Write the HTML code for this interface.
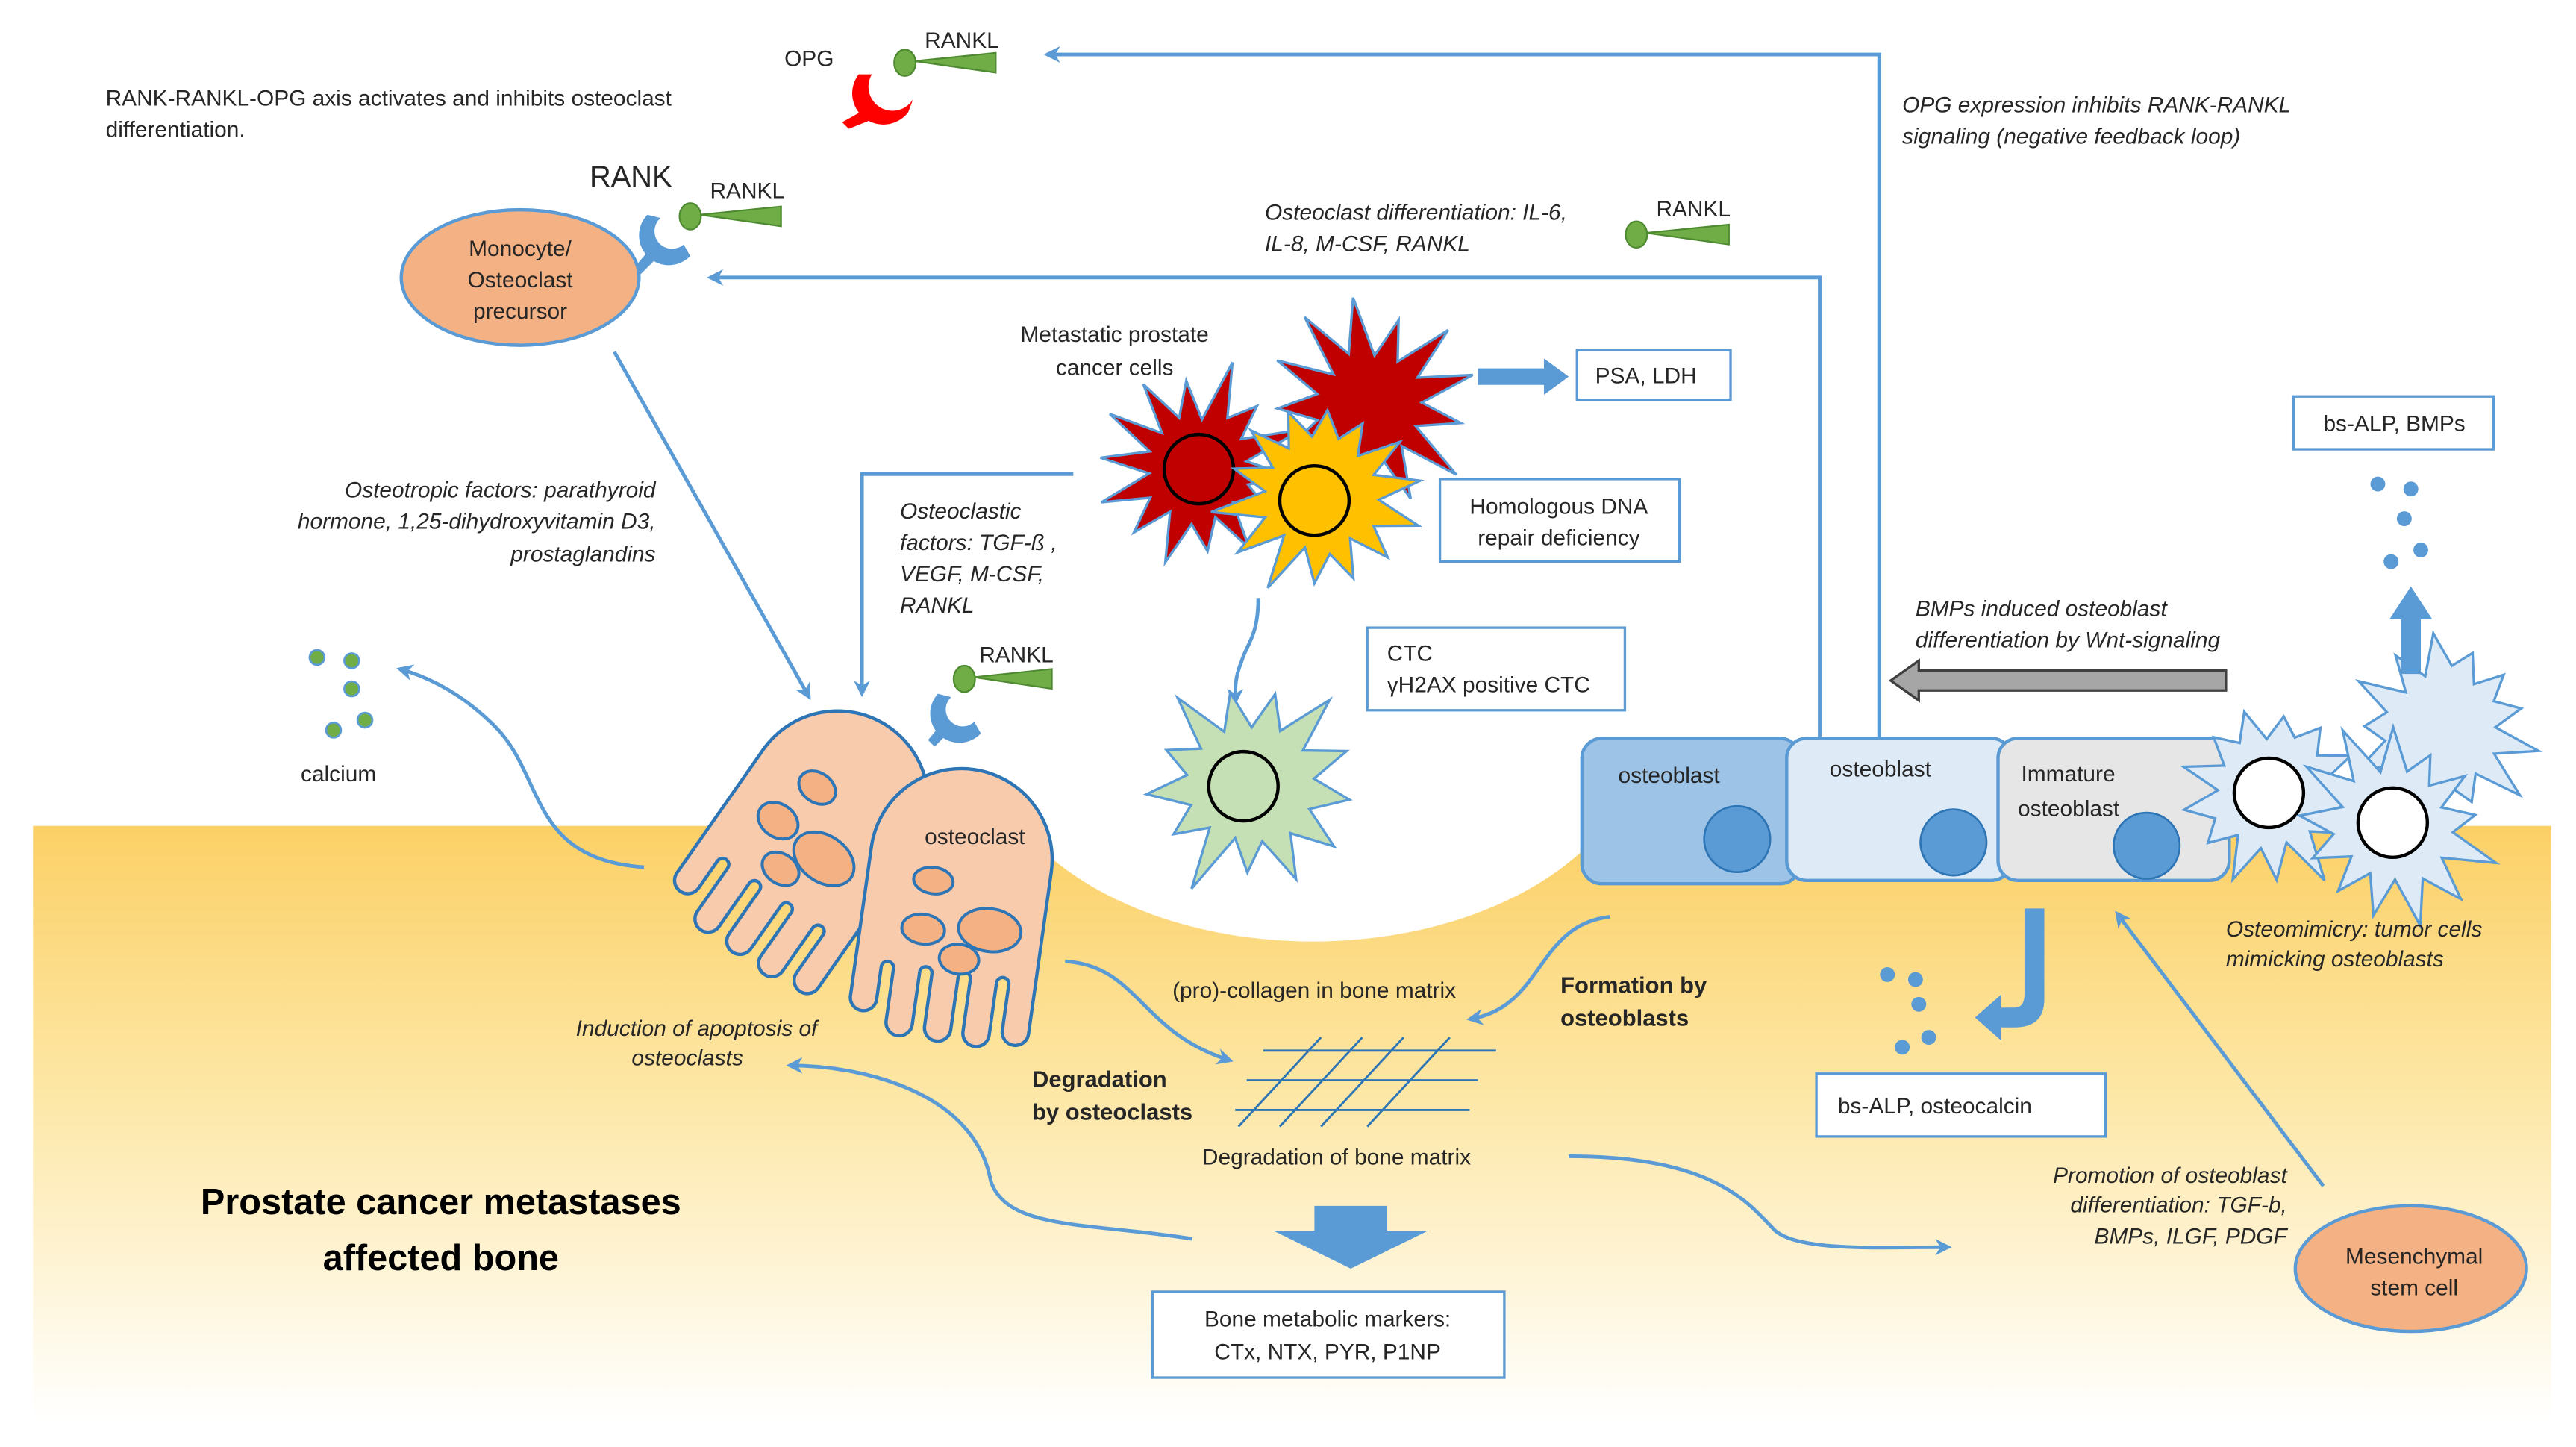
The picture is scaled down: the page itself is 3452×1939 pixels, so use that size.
<!DOCTYPE html>
<html><head><meta charset="utf-8">
<style>
html,body{margin:0;padding:0;background:#fff;}
svg{display:block;}
text{font-family:"Liberation Sans",sans-serif;fill:#262626;}
.t{font-size:13.5px;}
.i{font-size:13.5px;font-style:italic;}
.b{font-size:14px;font-weight:bold;}
</style></head>
<body>
<svg id="s" width="3452" height="1939" viewBox="0 0 1560 876" preserveAspectRatio="none" xmlns="http://www.w3.org/2000/svg">
<defs>
<linearGradient id="bone" x1="0" y1="0" x2="0" y2="1">
<stop offset="0" stop-color="#FCD066"/>
<stop offset="0.45" stop-color="#FDE7A6"/>
<stop offset="1" stop-color="#FFFFFF"/>
</linearGradient>
<marker id="ah" markerWidth="10" markerHeight="10" refX="8" refY="5" orient="auto" markerUnits="userSpaceOnUse">
<path d="M0,0 L10,5 L0,10 L3,5 Z" fill="#5B9BD5"/>
</marker>
</defs>
<!-- bone -->
<rect x="20" y="500" width="1525" height="360" fill="url(#bone)"/>
<ellipse cx="795" cy="440" rx="200" ry="130" fill="#fff"/>

<g fill="none" stroke="#5B9BD5" stroke-width="2.2">
<path d="M1138,450 L1138,33 L634,33" marker-end="url(#ah)"/>
<path d="M1102,450 L1102,168 L430,168" marker-end="url(#ah)"/>
<path d="M650,287 L522,287 L522,420" marker-end="url(#ah)"/>
<path d="M372,213 L490,422" marker-end="url(#ah)"/>
<path d="M762,362 C762,385 755,390 752,400 C748,410 748,415 748,425" marker-end="url(#ah)"/>
<path d="M390,525 C320,520 330,470 300,440 C280,420 260,410 242,405" marker-end="url(#ah)"/>
<path d="M645,582 C690,585 690,625 745,642" marker-end="url(#ah)"/>
<path d="M975,555 C930,560 935,610 890,617" marker-end="url(#ah)"/>
<path d="M722,750 C660,740 610,745 600,715 C590,660 520,645 478,645" marker-end="url(#ah)"/>
<path d="M950,700 C1040,700 1060,730 1075,745 C1090,758 1140,755 1180,755" marker-end="url(#ah)"/>
<path d="M1407,718 L1282,553" marker-end="url(#ah)"/>
</g>

<!-- texts top -->
<text class="t" x="64" y="64">RANK-RANKL-OPG axis activates and inhibits osteoclast</text>
<text class="t" x="64" y="83">differentiation.</text>
<text class="t" x="475" y="40">OPG</text>
<text class="t" x="560" y="29">RANKL</text>
<text class="i" x="1152" y="68">OPG expression inhibits RANK-RANKL</text>
<text class="i" x="1152" y="87">signaling (negative feedback loop)</text>
<text x="357" y="113" style="font-size:18px">RANK</text>
<text class="t" x="430" y="120">RANKL</text>
<text class="i" x="766" y="133">Osteoclast differentiation: IL-6,</text>
<text class="i" x="766" y="152">IL-8, M-CSF, RANKL</text>
<text class="t" x="1003" y="131">RANKL</text>
<text class="t" x="593" y="401">RANKL</text>

<!-- OPG receptor -->
<g fill="#FF0000">
<path d="M520,45 A18,18 0 0 0 550,68 L553,60 A10,10 0 0 1 528,45 Z"/>
<path d="M528,64 L534,70 L514,78 L510,74 Z"/>
</g>
<!-- RANKL ligands -->
<g fill="#70AD47" stroke="#4E8A30" stroke-width="1">
<ellipse cx="548" cy="38" rx="6.5" ry="8"/><path d="M554,37 L603,32 L603,44 Z"/>
<ellipse cx="418" cy="131" rx="6.5" ry="8"/><path d="M424,130 L473,125 L473,137 Z"/>
<ellipse cx="991" cy="142" rx="6.5" ry="8"/><path d="M997,141 L1047,136 L1047,148 Z"/>
<ellipse cx="584" cy="411" rx="6.5" ry="8"/><path d="M590,410 L637,405 L637,417 Z"/>
</g>
<!-- RANK receptors -->
<g fill="#5B9BD5">
<path d="M392,130 A16,16 0 0 0 418,155 L414,148 A9,9 0 0 1 400,132 Z"/>
<path d="M396,148 L402,152 L388,166 L384,162 Z"/>
<path d="M568,420 A16,16 0 0 0 594,444 L590,437 A9,9 0 0 1 576,422 Z"/>
<path d="M572,436 L578,440 L566,452 L562,448 Z"/>
</g>

<!-- monocyte -->
<ellipse cx="315" cy="168" rx="72" ry="41" fill="#F4B183" stroke="#5B9BD5" stroke-width="2"/>
<text class="t" x="315" y="155" text-anchor="middle">Monocyte/</text>
<text class="t" x="315" y="174" text-anchor="middle">Osteoclast</text>
<text class="t" x="315" y="193" text-anchor="middle">precursor</text>

<text class="t" x="675" y="207" text-anchor="middle">Metastatic prostate</text>
<text class="t" x="675" y="227" text-anchor="middle">cancer cells</text>

<g id="stars"></g>

<!-- PSA arrow/box -->
<path d="M895,223 L935,223 L935,217 L950,228 L935,239 L935,233 L895,233 Z" fill="#5B9BD5"/>
<rect x="955" y="212" width="93" height="30" fill="#fff" stroke="#5B9BD5" stroke-width="1.5"/>
<text class="t" x="966" y="232">PSA, LDH</text>
<rect x="872" y="290" width="145" height="50" fill="#fff" stroke="#5B9BD5" stroke-width="1.5"/>
<text class="t" x="944" y="311" text-anchor="middle">Homologous DNA</text>
<text class="t" x="944" y="330" text-anchor="middle">repair deficiency</text>
<rect x="828" y="380" width="156" height="50" fill="#fff" stroke="#5B9BD5" stroke-width="1.5"/>
<text class="t" x="840" y="400">CTC</text>
<text class="t" x="840" y="419">γH2AX positive CTC</text>

<text class="i" x="545" y="314">Osteoclastic</text>
<text class="i" x="545" y="333">factors: TGF-ß ,</text>
<text class="i" x="545" y="352">VEGF, M-CSF,</text>
<text class="i" x="545" y="371">RANKL</text>
<text class="i" x="397" y="301" text-anchor="end">Osteotropic factors: parathyroid</text>
<text class="i" x="397" y="320" text-anchor="end">hormone, 1,25-dihydroxyvitamin D3,</text>
<text class="i" x="397" y="340" text-anchor="end">prostaglandins</text>

<!-- calcium -->
<g fill="#70AD47" stroke="#5B9BD5" stroke-width="1.2">
<circle cx="192" cy="398" r="4.5"/><circle cx="213" cy="400" r="4.5"/><circle cx="213" cy="417" r="4.5"/><circle cx="202" cy="442" r="4.5"/><circle cx="221" cy="436" r="4.5"/>
</g>
<text class="t" x="205" y="473" text-anchor="middle">calcium</text>

<g id="oc"></g>
<text class="t" x="560" y="511">osteoclast</text>

<!-- osteoblasts -->
<rect x="958" y="447" width="132" height="88" rx="12" fill="#9DC3E6" stroke="#5B9BD5" stroke-width="2"/>
<rect x="1082" y="447" width="136" height="86" rx="12" fill="#DEEBF7" stroke="#5B9BD5" stroke-width="2"/>
<rect x="1210" y="447" width="140" height="86" rx="12" fill="#E7E6E6" stroke="#5B9BD5" stroke-width="2"/>
<g fill="#5B9BD5" stroke="#2E75B6" stroke-width="1.2">
<circle cx="1052" cy="508" r="20"/><circle cx="1183" cy="510" r="20"/><circle cx="1300" cy="512" r="20"/>
</g>
<text class="t" x="980" y="474">osteoblast</text>
<text class="t" x="1108" y="470">osteoblast</text>
<text class="t" x="1224" y="473">Immature</text>
<text class="t" x="1222" y="494">osteoblast</text>

<g id="stars2"></g>

<!-- gray arrow -->
<path d="M1348,406 L1162,406 L1162,400 L1145,412 L1162,424 L1162,418 L1348,418 Z" fill="#A6A6A6" stroke="#404040" stroke-width="1.5"/>
<text class="i" x="1160" y="373">BMPs induced osteoblast</text>
<text class="i" x="1160" y="392">differentiation by Wnt-signaling</text>

<path d="M1454,408 L1454,375 L1447,375 L1460,355 L1473,375 L1466,375 L1466,408 Z" fill="#5B9BD5"/>
<g fill="#5B9BD5"><circle cx="1440" cy="293" r="4.5"/><circle cx="1460" cy="296" r="4.5"/><circle cx="1456" cy="314" r="4.5"/><circle cx="1466" cy="333" r="4.5"/><circle cx="1448" cy="340" r="4.5"/></g>
<rect x="1389" y="240" width="121" height="32" fill="#fff" stroke="#5B9BD5" stroke-width="1.5"/>
<text class="t" x="1450" y="261" text-anchor="middle">bs-ALP, BMPs</text>

<text class="i" x="1348" y="567">Osteomimicry: tumor cells</text>
<text class="i" x="1348" y="585">mimicking osteoblasts</text>

<!-- hook arrow -->
<path d="M1226,550 L1238,550 L1238,605 Q1238,622 1220,622 L1212,622 L1212,630 L1196,616 L1212,602 L1212,610 L1220,610 Q1226,610 1226,602 Z" fill="#5B9BD5"/>
<g fill="#5B9BD5"><circle cx="1143" cy="590" r="4.5"/><circle cx="1160" cy="593" r="4.5"/><circle cx="1162" cy="608" r="4.5"/><circle cx="1168" cy="628" r="4.5"/><circle cx="1152" cy="634" r="4.5"/></g>
<rect x="1100" y="650" width="175" height="38" fill="#fff" stroke="#5B9BD5" stroke-width="1.5"/>
<text class="t" x="1113" y="674">bs-ALP, osteocalcin</text>

<ellipse cx="1460" cy="768" rx="70" ry="38" fill="#F4B183" stroke="#5B9BD5" stroke-width="2"/>
<text class="t" x="1462" y="765" text-anchor="middle">Mesenchymal</text>
<text class="t" x="1462" y="784" text-anchor="middle">stem cell</text>
<text class="i" x="1385" y="716" text-anchor="end">Promotion of osteoblast</text>
<text class="i" x="1385" y="734" text-anchor="end">differentiation: TGF-b,</text>
<text class="i" x="1385" y="753" text-anchor="end">BMPs, ILGF, PDGF</text>

<!-- matrix -->
<text class="t" x="710" y="604">(pro)-collagen in bone matrix</text>
<text class="b" x="945" y="601">Formation by</text>
<text class="b" x="945" y="621">osteoblasts</text>
<text class="b" x="625" y="658">Degradation</text>
<text class="b" x="625" y="678">by osteoclasts</text>
<g stroke="#2E75B6" stroke-width="1.3">
<line x1="765" y1="636" x2="906" y2="636"/><line x1="755" y1="654" x2="895" y2="654"/><line x1="748" y1="672" x2="890" y2="672"/>
<line x1="750" y1="682" x2="800" y2="628"/><line x1="775" y1="682" x2="825" y2="628"/><line x1="800" y1="682" x2="850" y2="628"/><line x1="828" y1="682" x2="878" y2="628"/>
</g>
<text class="t" x="728" y="705">Degradation of bone matrix</text>
<text class="i" x="495" y="627" text-anchor="end">Induction of apoptosis of</text>
<text class="i" x="450" y="645" text-anchor="end">osteoclasts</text>

<text x="267" y="735" text-anchor="middle" style="font-size:22px;font-weight:bold;fill:#000">Prostate cancer metastases</text>
<text x="267" y="769" text-anchor="middle" style="font-size:22px;font-weight:bold;fill:#000">affected bone</text>

<path d="M796,730 L840,730 L840,745 L865,745 L818,768 L771,745 L796,745 Z" fill="#5B9BD5"/>
<rect x="698" y="782" width="213" height="52" fill="#fff" stroke="#5B9BD5" stroke-width="1.5"/>
<text class="t" x="804" y="803" text-anchor="middle">Bone metabolic markers:</text>
<text class="t" x="804" y="823" text-anchor="middle">CTx, NTX, PYR, P1NP</text>
</svg>
<script>
var NS="http://www.w3.org/2000/svg";
function star(g,cx,cy,n,ro,ri,rot,fill,stroke,seed){
  var p=[],s=seed||1;
  function rnd(){s=(s*9301+49297)%233280;return s/233280;}
  for(var i=0;i<2*n;i++){
    var a=rot+Math.PI*i/n, r=(i%2==0)?ro*(0.8+0.3*rnd()):ri*(0.9+0.2*rnd());
    p.push((cx+r*Math.cos(a)).toFixed(1)+","+(cy+r*Math.sin(a)).toFixed(1));
  }
  var e=document.createElementNS(NS,"polygon");
  e.setAttribute("points",p.join(" "));e.setAttribute("fill",fill);e.setAttribute("stroke",stroke);e.setAttribute("stroke-width","1.5");
  g.appendChild(e);
}
function circ(g,cx,cy,r,fill){var e=document.createElementNS(NS,"circle");e.setAttribute("cx",cx);e.setAttribute("cy",cy);e.setAttribute("r",r);e.setAttribute("fill",fill);e.setAttribute("stroke","#000");e.setAttribute("stroke-width","2");g.appendChild(e);}
var g=document.getElementById("stars");
star(g,830,245,13,62,32,0.2,"#C00000","#5B9BD5",3);
star(g,725,283,14,62,32,0.1,"#C00000","#5B9BD5",7);
circ(g,726,284,21,"#C00000");
star(g,800,300,14,62,34,0.3,"#FFC000","#5B9BD5",11);
circ(g,796,303,21,"#FFC000");
star(g,757,475,13,66,36,0.15,"#C5E0B4","#5B9BD5",5);
circ(g,753,476,21,"#C5E0B4");
var g2=document.getElementById("stars2");
star(g2,1480,440,13,58,34,0.25,"#DEEBF7","#5B9BD5",13);
star(g2,1375,480,13,58,34,0.05,"#DEEBF7","#5B9BD5",17);
circ(g2,1374,480,21,"#fff");
star(g2,1450,500,13,60,34,0.35,"#DEEBF7","#5B9BD5",19);
circ(g2,1449,498,21,"#fff");
function oc(cx,cy,rot,nuc){
  var W=110,R=55,base=122,len=44,w=16,gap=7.5;
  var d="M0,"+R+" A"+R+","+R+" 0 0 1 "+W+","+R+" L"+W+","+base;
  var xr=W;
  for(var i=0;i<5;i++){
    var xl=xr-w,L=len-(i==4?12:(i==0?4:0));
    d+=" L"+xr+","+(base+L-8)+" A8,8 0 0 1 "+xl+","+(base+L-8);
    if(i<4){d+=" L"+xl+","+(base+4)+" A3.75,3.75 0 0 0 "+(xl-gap)+","+(base+4);}
    xr=xl-gap;
  }
  d+=" L0,"+R+" Z";
  var gg=document.createElementNS(NS,"g");
  gg.setAttribute("transform","translate("+(cx-55)+","+(cy-85)+") rotate("+rot+" 55 85)");
  var p=document.createElementNS(NS,"path");p.setAttribute("d",d);p.setAttribute("fill","#F8CBAD");p.setAttribute("stroke","#2E75B6");p.setAttribute("stroke-width","2");
  gg.appendChild(p);
  nuc.forEach(function(n){var e=document.createElementNS(NS,"ellipse");e.setAttribute("cx",n[0]);e.setAttribute("cy",n[1]);e.setAttribute("rx",n[2]);e.setAttribute("ry",n[3]);e.setAttribute("transform","rotate("+n[4]+" "+n[0]+" "+n[1]+")");e.setAttribute("fill","#F4B183");e.setAttribute("stroke","#2E75B6");e.setAttribute("stroke-width","1.8");gg.appendChild(e);});
  document.getElementById("oc").appendChild(gg);
}
oc(490,510,35,[[40,55,12,9,0],[32,85,13,10,0],[68,88,20,14,0],[50,108,12,9,0]]);
oc(578,550,8,[[40,70,12,8,0],[38,100,13,9,0],[78,95,19,13,0],[62,115,12,9,0]]);
</script>
</body></html>
